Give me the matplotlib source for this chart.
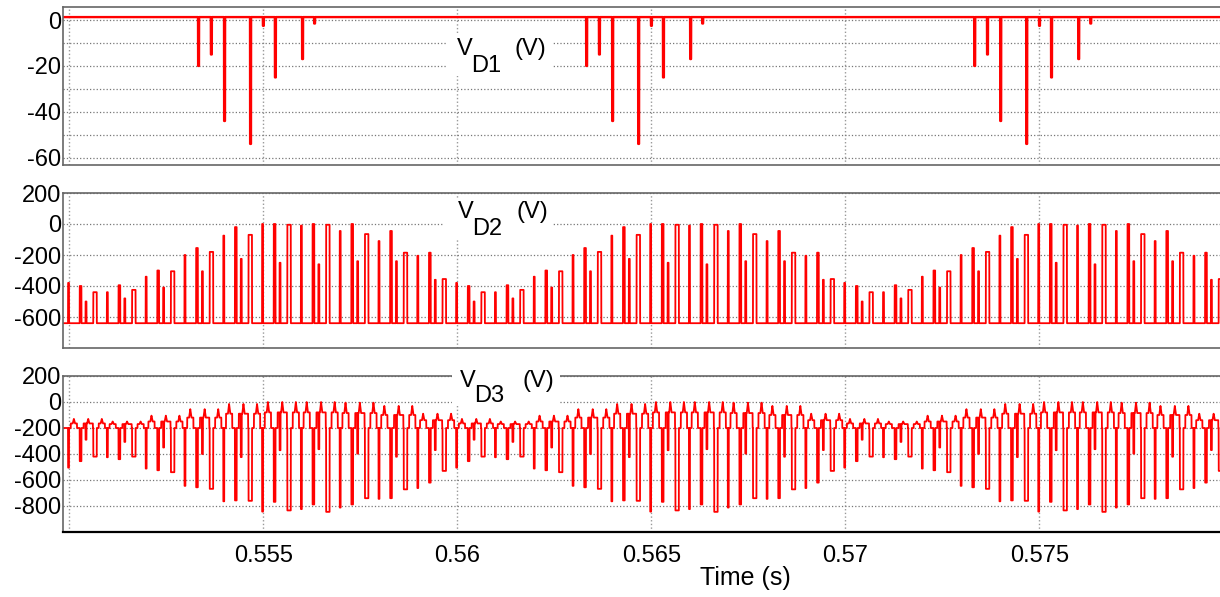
import numpy as np
import matplotlib.pyplot as plt
from matplotlib.patches import Rectangle

plt.rcParams['font.family'] = ['Liberation Sans', 'DejaVu Sans']
plt.rcParams['axes.unicode_minus'] = False

# start of each 10 ms cycle visible in the window (s)
cycle_start = [0.54997, 0.55997, 0.56997]

# V_D1: notch times inside one cycle (s) and notch depth (V)
vd1_t = [0.00335, 0.00368, 0.00402, 0.00469, 0.00502, 0.00533, 0.00603, 0.00634]
vd1_v = [-20, -15, -44, -54, -2.5, -25, -17, -1.5]
vd1_level = 1.3

# switching groups inside one cycle (s); each group has 4 pulses
group_t = [0.000, 0.001, 0.002, 0.003, 0.004, 0.005, 0.006, 0.007, 0.008, 0.009]
pulse_off = [0.0, 0.0003, 0.00045, 0.00065]
pulse_w = [0.000025, 0.000045, 0.000025, 0.00009]

# V_D2: off level and pulse tops (V), 4 per group
vd2_level = -640
vd2_peak = [-380, -400, -500, -440,
            -440, -395, -480, -425,
            -340, -300, -410, -305,
            -200, -155, -305, -180,
            -75, -20, -225, -70,
            0, 0, -250, -5,
            -10, 0, -260, -5,
            -45, 0, -240, -65,
            -110, -45, -240, -185,
            -205, -185, -360, -355]

# V_D3: off level, dips (V) at the same pulses, and the small humps between them
vd3_level = -200
vd3_dip = [-505, -455, -290, -420,
           -425, -440, -307, -420,
           -512, -525, -350, -540,
           -645, -656, -400, -668,
           -764, -757, -424, -760,
           -843, -768, -371, -834,
           -824, -788, -363, -845,
           -812, -788, -397, -740,
           -745, -740, -421, -672,
           -662, -620, -370, -530]
hump_off = [0.00015, 0.00052, 0.00087]
hump_w = [0.00016, 0.00024, 0.00016]
hump_low = [-165, -170, -150, -120, -90, -80, -80, -85, -100, -140]
hump_top = [-130, -150, -105, -55, -15, 0, 0, -5, -30, -90]

t = np.arange(0.5498, 0.5798, 1e-6)

vd1 = np.full_like(t, vd1_level)
vd2 = np.full_like(t, vd2_level)
vd3 = np.full_like(t, vd3_level)
for c0 in cycle_start:
    for off, v in zip(vd1_t, vd1_v):
        vd1[(t >= c0 + off) & (t < c0 + off + 0.000025)] = v
    for g, g0 in enumerate(group_t):
        for h in range(3):
            d = np.abs(t - (c0 + g0 + hump_off[h]))
            vd3[d < hump_w[h] / 2] = hump_low[g]
            tip = hump_top[g] - (hump_top[g] - hump_low[g]) * d / 0.00003
            m = d < 0.00003
            vd3[m] = np.maximum(vd3[m], tip[m])
        for k in range(4):
            ts = c0 + g0 + pulse_off[k]
            m = (t >= ts) & (t < ts + pulse_w[k])
            vd2[m] = vd2_peak[g * 4 + k]
            vd3[m] = vd3_dip[g * 4 + k]

fig = plt.figure(figsize=(12.2, 5.97), dpi=100)
W, H = 1220, 597
left, right = 63 / W, 1221 / W
boxes = [(7, 165), (193, 348), (376, 532)]
axs = [fig.add_axes([left, 1 - b / H, right - left, (b - a) / H]) for a, b in boxes]
ax1, ax2, ax3 = axs

ax1.plot(t, vd1, color='#ff0000', lw=1.7)
ax2.plot(t, vd2, color='#ff0000', lw=1.3)
ax3.plot(t, vd3, color='#ff0000', lw=1.3)

ax1.set_ylim(-63.2, 5.7)
ax1.set_yticks([-60, -40, -20, 0])
ax1.set_yticks([-50, -30, -10], minor=True)
ax2.set_ylim(-800, 200)
ax2.set_yticks([-600, -400, -200, 0, 200])
ax3.set_ylim(-1000, 200)
ax3.set_yticks([-800, -600, -400, -200, 0, 200])

xt = [0.55, 0.555, 0.56, 0.565, 0.57, 0.575]
for ax in axs:
    ax.set_xlim(0.54984, 0.57968)
    ax.set_xticks(xt)
    ax.set_xticklabels([])
    ax.grid(True, which='both', axis='y', ls=':', color='#777', lw=0.9)
    ax.grid(True, which='major', axis='x', ls=':', color='#999', lw=1.0)
    ax.tick_params(which='both', length=0, labelsize=17, pad=1.5)
    for s in ax.spines.values():
        s.set_color('#666')
        s.set_linewidth(1.2)
ax3.set_xticklabels(['', '0.555', '0.56', '0.565', '0.57', '0.575'])
ax3.tick_params(axis='x', pad=9)
ax3.spines['bottom'].set_color('black')
ax3.spines['bottom'].set_linewidth(1.6)

# the top "200" label sits a little under the frame edge
for ax in (ax2, ax3):
    ax.get_yticklabels()[-1].set_verticalalignment('center_baseline')

fig.text(745 / W, 1 - 578 / H, 'Time (s)', ha='center', va='center', fontsize=18)

# panel labels with white backing
labels = [('D1', 447, 33, 553, 76, 457, 55, 72, 515),
          ('D2', 443, 198, 553, 240, 458, 218, 235, 517),
          ('D3', 452, 365, 560, 406, 460, 387, 402, 522)]
for sub, x0, y0, x1, y1, xv, yb, ysub, xu in labels:
    fig.patches.append(Rectangle((x0 / W, 1 - y1 / H), (x1 - x0) / W, (y1 - y0) / H,
                                 transform=fig.transFigure, facecolor='white',
                                 edgecolor='none', zorder=5))
    fig.text(xv / W, 1 - yb / H, 'V', fontsize=17, va='baseline', zorder=6)
    fig.text((xv + 14) / W, 1 - ysub / H, sub, fontsize=17, va='baseline', zorder=6)
    fig.text(xu / W, 1 - yb / H, '(V)', fontsize=17, va='baseline', zorder=6)

fig.savefig('out.png', dpi=100)
